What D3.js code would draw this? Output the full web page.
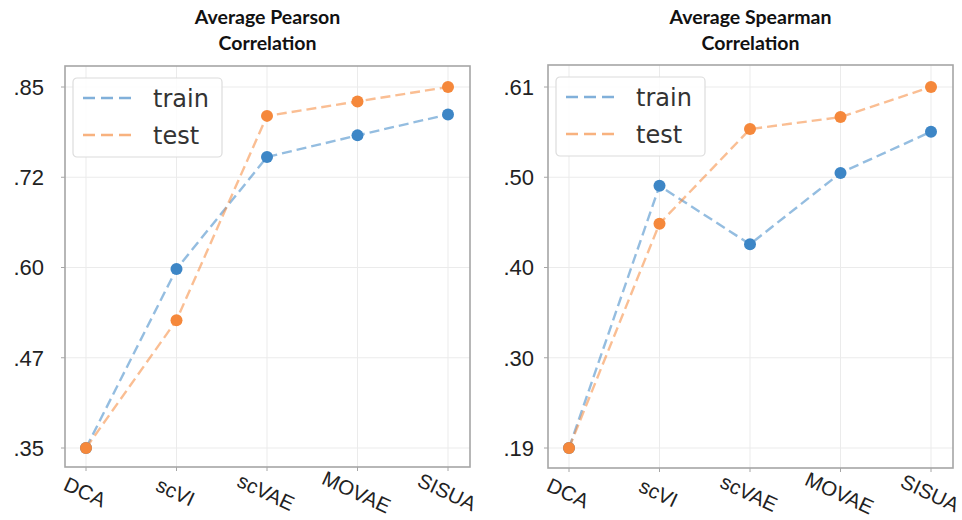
<!DOCTYPE html>
<html>
<head>
<meta charset="utf-8">
<script src="https://cdn.jsdelivr.net/npm/d3@7"></script>
<style>
  html, body { margin: 0; padding: 0; background: #fff; }
  svg { display: block; }
</style>
</head>
<body>
<svg id="chart" width="962" height="520"></svg>
<script>
// Methods compared on the x axis
const methods = ["DCA", "scVI", "scVAE", "MOVAE", "SISUA"];

// Average Pearson correlation
const pearsonTrain = [0.350, 0.598, 0.753, 0.783, 0.812];
const pearsonTest  = [0.350, 0.527, 0.810, 0.830, 0.850];
const pearsonTicks = [0.35, 0.475, 0.60, 0.725, 0.85];
const pearsonTickLabels = [".35", ".47", ".60", ".72", ".85"];

// Average Spearman correlation
const spearmanTrain = [0.190, 0.495, 0.427, 0.510, 0.558];
const spearmanTest  = [0.190, 0.451, 0.561, 0.575, 0.610];
const spearmanTicks = [0.19, 0.295, 0.40, 0.505, 0.61];
const spearmanTickLabels = [".19", ".30", ".40", ".50", ".61"];

const seriesNames = ["train", "test"];
const colors = { train: "#3d86c6", test: "#f5883b" };

const svg = d3.select("#chart");

function drawPanel(opts) {
  const { left, right, top, bottom, title, train, test, ticks, tickLabels, labelX } = opts;
  const g = svg.append("g");

  const x = d3.scalePoint().domain(methods).range([left + 21, right - 22]);
  // pixel rows of the first and last ticks
  const y = d3.scaleLinear()
    .domain([ticks[0], ticks[ticks.length - 1]])
    .range([448, 87]);

  // grid
  g.selectAll(".hgrid").data(ticks).join("line")
    .attr("x1", left).attr("x2", right)
    .attr("y1", d => y(d)).attr("y2", d => y(d))
    .attr("stroke", "#ebebeb").attr("stroke-width", 1);
  g.selectAll(".vgrid").data(methods).join("line")
    .attr("x1", d => x(d)).attr("x2", d => x(d))
    .attr("y1", top).attr("y2", bottom)
    .attr("stroke", "#ebebeb").attr("stroke-width", 1);

  // frame
  g.append("rect")
    .attr("x", left).attr("y", top)
    .attr("width", right - left).attr("height", bottom - top)
    .attr("fill", "none").attr("stroke", "#a6a6a6").attr("stroke-width", 1.6);

  // y axis ticks + labels
  g.selectAll(".ytick").data(ticks).join("line")
    .attr("x1", left - 4).attr("x2", left)
    .attr("y1", d => y(d)).attr("y2", d => y(d))
    .attr("stroke", "#a6a6a6").attr("stroke-width", 1);
  g.selectAll(".ylab").data(ticks).join("text")
    .attr("x", labelX)
    .attr("y", d => y(d))
    .attr("dy", "0.36em")
    .attr("text-anchor", "end")
    .attr("font-family", "Liberation Sans, Arial, sans-serif")
    .attr("font-size", 22)
    .attr("fill", "#222")
    .text((d, i) => tickLabels[i]);

  // x axis ticks + labels
  g.selectAll(".xtick").data(methods).join("line")
    .attr("x1", d => x(d)).attr("x2", d => x(d))
    .attr("y1", bottom).attr("y2", bottom + 4)
    .attr("stroke", "#a6a6a6").attr("stroke-width", 1);
  g.selectAll(".xlab").data(methods).join("text")
    .attr("transform", d => `translate(${x(d) - 1},${bottom + 25}) rotate(25)`)
    .attr("text-anchor", "middle")
    .attr("dy", "0.35em")
    .attr("font-family", "Liberation Sans, Arial, sans-serif")
    .attr("font-size", 20.5)
    .attr("fill", "#222")
    .text(d => d);

  // title
  const t = g.append("text")
    .attr("x", (left + right) / 2)
    .attr("text-anchor", "middle")
    .attr("font-family", "Lato, 'Open Sans', sans-serif")
    .attr("font-weight", "bold")
    .attr("font-size", 19.5)
    .attr("fill", "#111");
  t.append("tspan").attr("x", (left + right) / 2).attr("y", 24).text(title[0]);
  t.append("tspan").attr("x", (left + right) / 2).attr("y", 50).text(title[1]);

  // lines and markers
  const line = d3.line().x((d, i) => x(methods[i])).y(d => y(d));
  const data = { train, test };
  seriesNames.forEach(name => {
    g.append("path")
      .datum(data[name])
      .attr("d", line)
      .attr("fill", "none")
      .attr("stroke", colors[name])
      .attr("stroke-opacity", 0.55)
      .attr("stroke-width", 2.4)
      .attr("stroke-dasharray", "10,5");
  });
  seriesNames.forEach(name => {
    g.selectAll(".pt-" + name).data(data[name]).join("circle")
      .attr("cx", (d, i) => x(methods[i]))
      .attr("cy", d => y(d))
      .attr("r", 6)
      .attr("fill", colors[name]);
  });

  // legend
  const lg = g.append("g").attr("transform", `translate(${left + 8},${top + 12})`);
  lg.append("rect")
    .attr("x", 0).attr("y", 0).attr("width", 149).attr("height", 79)
    .attr("rx", 4)
    .attr("fill", "#fff").attr("fill-opacity", 0.85)
    .attr("stroke", "#dcdcdc").attr("stroke-width", 1.2);
  seriesNames.forEach((name, i) => {
    const yy = 20 + i * 37;
    lg.append("line")
      .attr("x1", 10).attr("x2", 60)
      .attr("y1", yy).attr("y2", yy)
      .attr("stroke", colors[name])
      .attr("stroke-opacity", 0.65)
      .attr("stroke-width", 2.4)
      .attr("stroke-dasharray", "12,6");
    lg.append("text")
      .attr("x", 80).attr("y", yy)
      .attr("dy", "0.36em")
      .attr("font-family", "DejaVu Sans, sans-serif")
      .attr("font-size", 24)
      .attr("fill", "#333")
      .text(name);
  });
}

drawPanel({
  left: 65, right: 470, top: 66, bottom: 467,
  title: ["Average Pearson", "Correlation"],
  train: pearsonTrain, test: pearsonTest,
  ticks: pearsonTicks, tickLabels: pearsonTickLabels,
  labelX: 44
});

drawPanel({
  left: 548, right: 953, top: 65, bottom: 468,
  title: ["Average Spearman", "Correlation"],
  train: spearmanTrain, test: spearmanTest,
  ticks: spearmanTicks, tickLabels: spearmanTickLabels,
  labelX: 534
});
</script>
</body>
</html>
